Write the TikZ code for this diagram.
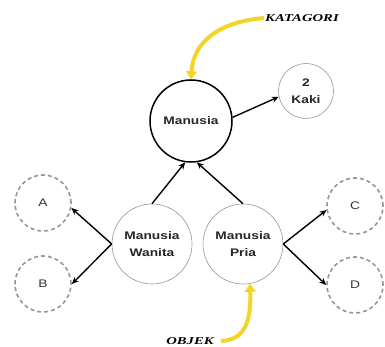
\documentclass[tikz,border=0pt]{standalone}
\usepackage{fontspec}
\newfontfamily\nodefont[FakeStretch=1.25]{Liberation Sans}
\newfontfamily\tagfont[FakeStretch=1.4]{Liberation Serif}
\usetikzlibrary{arrows.meta}
\definecolor{marker}{RGB}{245,212,40}
\definecolor{rim}{RGB}{150,150,150}
\begin{document}
\begin{tikzpicture}[x=1pt,y=-1pt,
  concept/.style={circle,draw=rim,line width=0.6pt,inner sep=0pt,align=center,
    font=\nodefont\fontsize{11}{16.5}\selectfont\bfseries,text=black!85},
  mainconcept/.style={concept,draw=black,line width=1.5pt},
  instance/.style={circle,draw=rim,line width=1.6pt,dash pattern=on 4pt off 3pt,
    inner sep=0pt,font=\nodefont\fontsize{11}{12}\selectfont,text=black!80},
  link/.style={line width=1.4pt,-{Stealth[length=7pt,width=6pt]}},
  hint/.style={draw=marker,line width=4pt,-{Triangle[length=8pt,width=11pt]}},
  tag/.style={font=\tagfont\fontsize{10.5}{12}\selectfont\bfseries\itshape,inner sep=1pt}]
\useasboundingbox (0,0) rectangle (385,347);

% concept circles
\node[mainconcept,minimum size=82pt] (m) at (191,121) {Manusia};
\node[concept,minimum size=55pt] (k) at (306,91) {2\\Kaki};
\node[concept,minimum size=80pt] (w) at (152,244) {Manusia\\Wanita};
\node[concept,minimum size=80pt] (p) at (243,244) {Manusia\\Pria};

% instance circles
\node[instance,minimum size=56pt] (a) at (43,203) {A};
\node[instance,minimum size=56pt] (b) at (43,284) {B};
\node[instance,minimum size=56pt] (c) at (355,206) {C};
\node[instance,minimum size=56pt] (d) at (355,285) {D};

% side labels
\node[tag] (kat) at (302,18) {KATAGORI};
\node[tag] (obj) at (190,341) {OBJEK};

% relations
\draw[link] (m.5) -- (k.192);
\draw[link] (w.north) -- (m.262);
\draw[link] (p.north) -- (m.278);
\draw[link] (w.west) -- (a.-10);
\draw[link] (w.west) -- (b.east);
\draw[link] (p.east) -- (c.188);
\draw[link] (p.east) -- (d.west);

% highlight arrows
\draw[hint] (kat.west) .. controls (215,22) and (193,45) .. (m.north);
\draw[hint] ([xshift=6pt]obj.east) .. controls (247,340) and (251,318) .. (p.-80);
\end{tikzpicture}
\end{document}
